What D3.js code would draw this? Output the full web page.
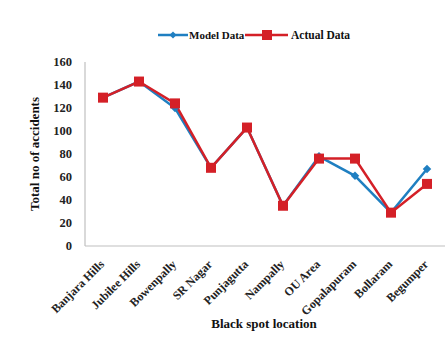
<!DOCTYPE html>
<html><head><meta charset="utf-8">
<script src="https://cdn.jsdelivr.net/npm/d3@7"></script>
<style>body{margin:0;background:#fff}svg{display:block}text{font-family:"Liberation Serif","Times New Roman",serif;font-weight:bold}</style>
</head><body><svg id="c" width="448" height="339"></svg>
<script>
const categories = ["Banjara Hills","Jubilee Hills","Bowenpally","SR Nagar","Punjagutta","Nampally","OU Area","Gopalapuram","Bollaram","Begumper"];
const modelData = [129,143,120,68,103,35,78,61,29,67];
const actualData = [129,143,124,68,103,35,76,76,29,54];
const yTicks = [0,20,40,60,80,100,120,140,160];

const svg = d3.select("#c");
const x = d3.scaleBand().domain(categories).range([85,445]);
const y = d3.scaleLinear().domain([0,160]).range([246,62]);
const blue = "#1f7fc1", red = "#d42027";

// axes lines
svg.append("line").attr("x1",85).attr("x2",85).attr("y1",62).attr("y2",246).attr("stroke","#c0c0c0").attr("stroke-width",1.2);
svg.append("line").attr("x1",85).attr("x2",445).attr("y1",246).attr("y2",246).attr("stroke","#c0c0c0").attr("stroke-width",1.2);

// y tick labels
svg.selectAll(".yt").data(yTicks).enter().append("text")
  .attr("x",72).attr("y",d=>y(d)).attr("dy","0.35em").attr("text-anchor","end")
  .attr("font-size",12.5).attr("fill","#222").text(d=>d);

// x tick labels
svg.selectAll(".xt").data(categories).enter().append("text")
  .attr("transform",d=>`translate(${x(d)+x.bandwidth()/2+2},265) rotate(-45)`)
  .attr("text-anchor","end").attr("font-size",12).attr("fill","#222").text(d=>d);

// titles
svg.append("text").attr("x",264).attr("y",328).attr("text-anchor","middle").attr("font-size",13).attr("fill","#111").text("Black spot location");
svg.append("text").attr("transform","translate(39,154) rotate(-90)").attr("text-anchor","middle").attr("font-size",13).attr("fill","#111").text("Total no of accidents");

const cx = d=>x(d)+x.bandwidth()/2;
const line = d3.line().x((d,i)=>cx(categories[i])).y(d=>y(d));

svg.append("path").datum(modelData).attr("d",line).attr("fill","none").attr("stroke",blue).attr("stroke-width",2.5);
svg.append("path").datum(actualData).attr("d",line).attr("fill","none").attr("stroke",red).attr("stroke-width",2.5);

svg.selectAll(".md").data(modelData).enter().append("rect")
  .attr("width",6).attr("height",6)
  .attr("transform",(d,i)=>`translate(${cx(categories[i])},${y(d)}) rotate(45) translate(-3,-3)`)
  .attr("fill",blue);
svg.selectAll(".ad").data(actualData).enter().append("rect")
  .attr("x",(d,i)=>cx(categories[i])-5).attr("y",d=>y(d)-5).attr("width",10).attr("height",10).attr("fill",red);

// legend
const lg = svg.append("g");
lg.append("line").attr("x1",158).attr("x2",188).attr("y1",35).attr("y2",35).attr("stroke",blue).attr("stroke-width",2.5);
lg.append("rect").attr("width",5).attr("height",5).attr("transform","translate(173,35) rotate(45) translate(-2.5,-2.5)").attr("fill",blue);
lg.append("text").attr("x",189).attr("y",35).attr("dy","0.35em").attr("font-size",11).attr("fill","#111").text("Model Data");
lg.append("line").attr("x1",245).attr("x2",288).attr("y1",35).attr("y2",35).attr("stroke",red).attr("stroke-width",2.5);
lg.append("rect").attr("x",262).attr("y",30).attr("width",10).attr("height",10).attr("fill",red);
lg.append("text").attr("x",291).attr("y",35).attr("dy","0.35em").attr("font-size",11.5).attr("fill","#111").text("Actual Data");
</script></body></html>
